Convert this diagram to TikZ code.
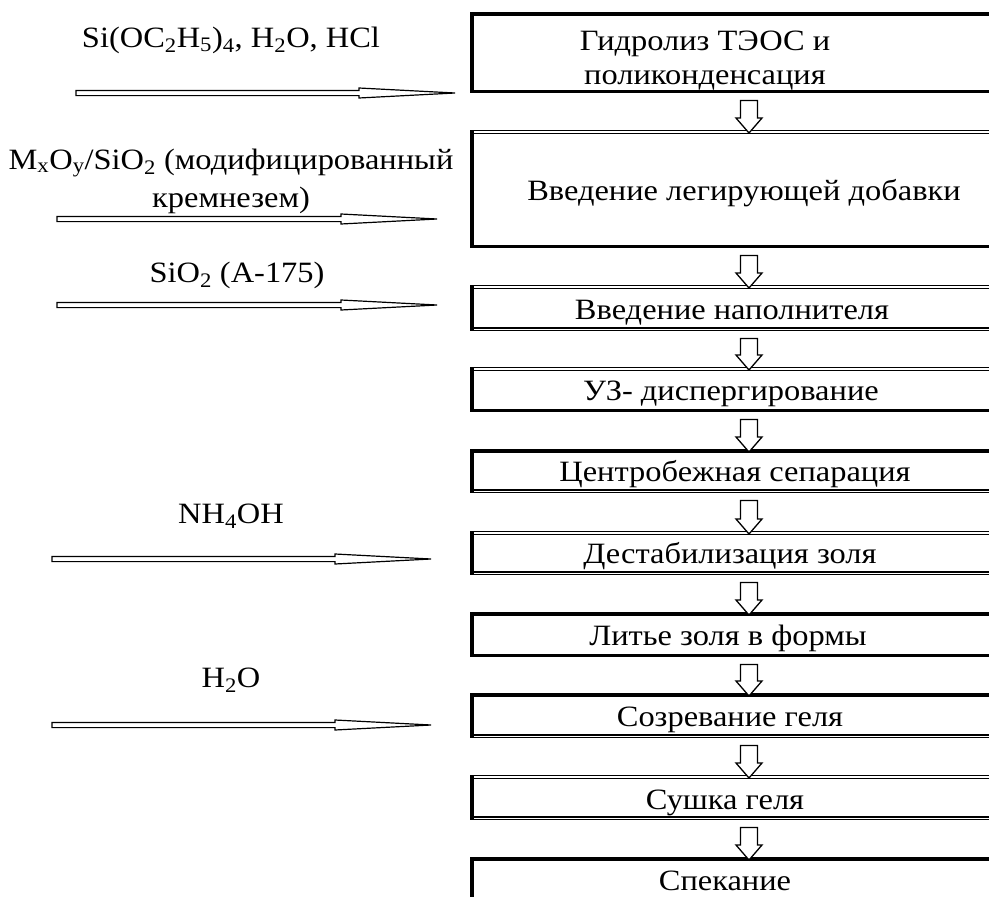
\documentclass[tikz,border=0pt]{standalone}
\usepackage{fontspec}
\setmainfont{Liberation Serif}[FakeStretch=1.10]
\usetikzlibrary{calc}
\tikzset{
  boxnode/.style={rectangle, inner sep=0pt, anchor=north west, minimum width=510pt},
  txt/.style={font=\fontsize{29.5}{34}\selectfont, inner sep=0pt, align=center},
  thk/.style={line width=3.4pt, line cap=rect},
  dbl/.style={double, line width=1.2pt, double distance=1.6pt},
  sideline/.style={line width=3.4pt},
  blockarrow/.style={line width=1.3pt, fill=white, line join=miter},
  feedarrow/.style={line width=1.2pt, fill=white, line join=miter},
}
\newcommand\boxedges[3]{%
  \draw[#2] (#1.north west) -- ++(540,0);
  \draw[#3] (#1.south west) -- ++(540,0);
  \draw[sideline] ([yshift=1.7pt]#1.north west) -- ([yshift=-1.7pt]#1.south west);
}
\newcommand\dnarrow[2]{%
  \draw[blockarrow] let \p1=(#1.south), \p2=(#2.north) in
   (740.5pt,\y1-9pt) -- (757.5pt,\y1-9pt) -- (757.5pt,\y2+14pt) -- (762pt,\y2+14pt)
   -- (749pt,\y2-1pt) -- (736pt,\y2+14pt) -- (740.5pt,\y2+14pt) -- cycle;
}
\newcommand\feedarr[2]{%
  \draw[feedarrow] let \p1=(#1), \p2=(#2) in
   (\x1,\y1+2.6pt) -- (\x2-96pt,\y1+2.6pt) -- (\x2-96pt,\y1+5pt) -- (\x2,\y1)
   -- (\x2-96pt,\y1-5pt) -- (\x2-96pt,\y1-2.6pt) -- (\x1,\y1-2.6pt) -- cycle;
}
\begin{document}
\begin{tikzpicture}[x=1pt,y=-1pt]
\useasboundingbox (0,0) rectangle (989,897);
\clip (0,0) rectangle (989,897);
% boxes
\node[boxnode, minimum height=77pt]  (b1)  at (472,14)  {};
\node[boxnode, minimum height=114pt] (b2)  at (472,132) {};
\node[boxnode, minimum height=42pt]  (b3)  at (472,287) {};
\node[boxnode, minimum height=41pt]  (b4)  at (472,369) {};
\node[boxnode, minimum height=40pt]  (b5)  at (472,451) {};
\node[boxnode, minimum height=40pt]  (b6)  at (472,533) {};
\node[boxnode, minimum height=41pt]  (b7)  at (472,614) {};
\node[boxnode, minimum height=41pt]  (b8)  at (472,695) {};
\node[boxnode, minimum height=41pt]  (b9)  at (472,777) {};
\node[boxnode, minimum height=50pt]  (b10) at (472,859) {};
\boxedges{b1}{thk}{thk}
\boxedges{b2}{dbl}{thk}
\boxedges{b3}{dbl}{dbl}
\boxedges{b4}{dbl}{thk}
\boxedges{b5}{thk}{dbl}
\boxedges{b6}{dbl}{dbl}
\boxedges{b7}{thk}{thk}
\boxedges{b8}{thk}{dbl}
\boxedges{b9}{dbl}{dbl}
\draw[thk] (b10.north west) -- ++(540,0);
\draw[sideline] ([yshift=1.7pt]b10.north west) -- (b10.south west);
% box texts
\node[txt, anchor=base] (t1) at (705,84) {Гидролиз ТЭОС и\\поликонденсация};
\node[txt, anchor=base] (t2) at (744,200) {Введение легирующей добавки};
\node[txt, anchor=base] (t3) at (732,319) {Введение наполнителя};
\node[txt, anchor=base] (t4) at (731,400) {УЗ- диспергирование};
\node[txt, anchor=base] (t5) at (735,481) {Центробежная сепарация};
\node[txt, anchor=base] (t6) at (730,563) {Дестабилизация золя};
\node[txt, anchor=base] (t7) at (728,645) {Литье золя в формы};
\node[txt, anchor=base] (t8) at (730,726) {Созревание геля};
\node[txt, anchor=base] (t9) at (725,809) {Сушка геля};
\node[txt, anchor=base] (t10) at (725,890) {Спекание};
% down arrows
\dnarrow{b1}{b2}
\dnarrow{b2}{b3}
\dnarrow{b3}{b4}
\dnarrow{b4}{b5}
\dnarrow{b5}{b6}
\dnarrow{b6}{b7}
\dnarrow{b7}{b8}
\dnarrow{b8}{b9}
\dnarrow{b9}{b10}
% feed labels
\node[txt, anchor=base] (l1) at (231,47) {Si(OC\textsubscript{2}H\textsubscript{5})\textsubscript{4}, H\textsubscript{2}O, HCl};
\node[txt, anchor=base, font=\fontsize{29.5}{38}\selectfont] (l2) at (231,207) {M\textsubscript{x}O\textsubscript{y}/SiO\textsubscript{2} (модифицированный\\кремнезем)};
\node[txt, anchor=base] (l3) at (237,282) {SiO\textsubscript{2} (A-175)};
\node[txt, anchor=base] (l4) at (231,523) {NH\textsubscript{4}OH};
\node[txt, anchor=base] (l5) at (231,687) {H\textsubscript{2}O};
% feed arrows
\coordinate (s1) at (76,93);  \coordinate (e1) at (455,93);
\coordinate (s2) at (57,219); \coordinate (e2) at (437,219);
\coordinate (s3) at (57,305); \coordinate (e3) at (437,305);
\coordinate (s4) at (52,559); \coordinate (e4) at (431,559);
\coordinate (s5) at (52,725); \coordinate (e5) at (431,725);
\feedarr{s1}{e1}
\feedarr{s2}{e2}
\feedarr{s3}{e3}
\feedarr{s4}{e4}
\feedarr{s5}{e5}
\end{tikzpicture}
\end{document}
